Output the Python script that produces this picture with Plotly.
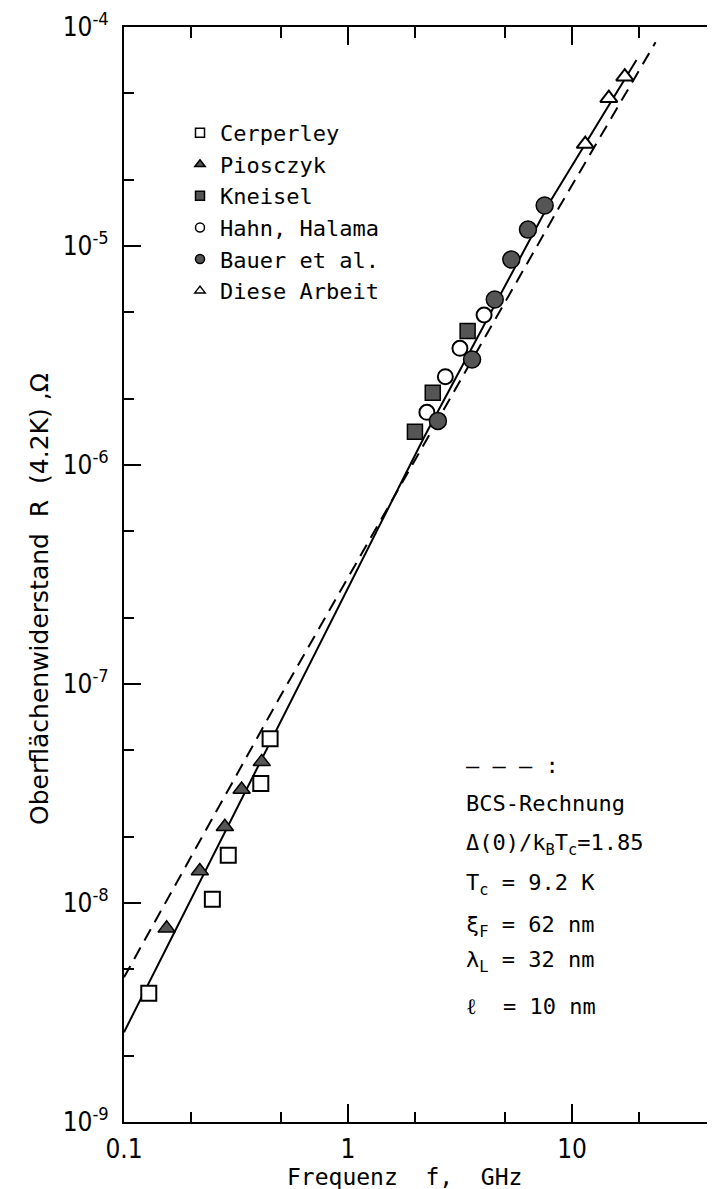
import plotly.graph_objects as go

# ---------------- data ----------------
cerperley_f = [0.129, 0.248, 0.292, 0.408, 0.449]
cerperley_R = [3.87e-9, 1.04e-8, 1.65e-8, 3.51e-8, 5.62e-8]

piosczyk_f = [0.155, 0.218, 0.282, 0.335, 0.412]
piosczyk_R = [7.66e-9, 1.40e-8, 2.23e-8, 3.30e-8, 4.41e-8]

kneisel_f = [1.99, 2.39, 3.42]
kneisel_R = [1.42e-6, 2.14e-6, 4.09e-6]

hahn_f = [2.25, 2.72, 3.16, 4.05]
hahn_R = [1.74e-6, 2.53e-6, 3.41e-6, 4.84e-6]

bauer_f = [2.52, 3.58, 4.52, 5.36, 6.36, 7.55]
bauer_R = [1.59e-6, 3.03e-6, 5.70e-6, 8.67e-6, 1.188e-5, 1.532e-5]

diese_f = [11.46, 14.6, 17.2]
diese_R = [2.92e-5, 4.73e-5, 5.93e-5]

fit_f = [0.1, 0.594, 2.20, 8.08, 19.4]
fit_R = [2.57e-9, 9.51e-8, 1.357e-6, 1.627e-5, 7.07e-5]

bcs_f = [0.1, 0.501, 8.81, 23.6]
bcs_R = [4.58e-9, 8.86e-8, 1.517e-5, 8.51e-5]

x_tickvals = [0.1, 1, 10]
x_ticktext = ["0.1", "1", "10"]
x_minor = [0.2, 0.5, 2, 5, 20]
y_tickvals = [1e-9, 1e-8, 1e-7, 1e-6, 1e-5, 1e-4]
y_ticktext = ["10<sup>-9</sup>", "10<sup>-8</sup>", "10<sup>-7</sup>",
              "10<sup>-6</sup>", "10<sup>-5</sup>", "10<sup>-4</sup>"]
y_minor = [m * d for d in [1e-9, 1e-8, 1e-7, 1e-6, 1e-5] for m in (2, 5)]

legend_names = ["Cerperley", "Piosczyk", "Kneisel", "Hahn, Halama",
                "Bauer et al.", "Diese Arbeit"]

note_lines = ["— — — :", "BCS-Rechnung",
              "Δ(0)/k<sub>B</sub>T<sub>c</sub>=1.85",
              "T<sub>c</sub> = 9.2 K",
              "ξ<sub>F</sub> = 62 nm",
              "λ<sub>L</sub> = 32 nm",
              "ℓ  = 10 nm"]

x_title = "Frequenz  f,  GHz"
y_title = "Oberflächenwiderstand  R  (4.2K) ,Ω"

# ---------------- layout geometry ----------------
W, H = 715, 1189
L, T, B, RGT = 116, 17, 1114, 715
PW, PH = RGT - L, B - T
X_RANGE = [-1, -1 + PW / 224.0]
Y_RANGE = [-9, -4]


def xp(px):
    return (px - L) / PW


def yp(py):
    return (B - py) / PH


GRAY = "#555555"
MONO = "DejaVu Sans Mono"
SANS = "Liberation Sans Narrow, DejaVu Sans Condensed, Liberation Sans, Arial"

fig = go.Figure()

# curves
fig.add_trace(go.Scatter(x=fit_f, y=fit_R, mode="lines",
                         line=dict(color="black", width=2), showlegend=False))
fig.add_trace(go.Scatter(x=bcs_f, y=bcs_R, mode="lines",
                         line=dict(color="black", width=2, dash="13px,8px"),
                         showlegend=False))

marker_styles = [
    (cerperley_f, cerperley_R, "square", "white", 15),
    (piosczyk_f, piosczyk_R, "triangle-up", GRAY, 15),
    (kneisel_f, kneisel_R, "square", GRAY, 15),
    (hahn_f, hahn_R, "circle", "white", 15),
    (bauer_f, bauer_R, "circle", GRAY, 17),
    (diese_f, diese_R, "triangle-up", "white", 15),
]
for (fx, ry, sym, col, sz), name in zip(marker_styles, legend_names):
    fig.add_trace(go.Scatter(
        x=fx, y=ry, mode="markers", name=name, showlegend=False,
        marker=dict(symbol=sym, size=sz, color=col,
                    line=dict(color="black", width=2 if col == "white" else 1.5))))

# legend entries (smaller symbols as in the key)
for (fx, ry, sym, col, sz), name in zip(marker_styles, legend_names):
    fig.add_trace(go.Scatter(
        x=[None], y=[None], mode="markers", name=name, showlegend=True,
        marker=dict(symbol=sym, size=9, color=col,
                    line=dict(color="black", width=1.5))))

# dummy trace for top / right axes
fig.add_trace(go.Scatter(x=[None], y=[None], xaxis="x2", yaxis="y2",
                         showlegend=False, hoverinfo="skip"))

axis_common = dict(type="log", showgrid=False, zeroline=False,
                   linecolor="black", tickcolor="black")

fig.update_layout(
    width=W, height=H,
    margin=dict(l=L, r=W - RGT, t=T, b=H - B, pad=0),
    paper_bgcolor="white", plot_bgcolor="white",
    xaxis=dict(**axis_common, range=X_RANGE, showline=True, linewidth=2,
               ticks="inside", ticklen=18, tickwidth=2,
               tickvals=x_tickvals, ticktext=x_ticktext,
               ticklabelstandoff=3, ticklabeloverflow="allow",
               tickfont=dict(family=SANS, size=26, color="black"),
               minor=dict(tickvals=x_minor, ticks="inside", ticklen=10,
                          tickwidth=2, tickcolor="black")),
    yaxis=dict(**axis_common, range=Y_RANGE, showline=True, linewidth=2,
               ticks="inside", ticklen=17, tickwidth=2,
               tickvals=y_tickvals, ticktext=y_ticktext,
               ticklabelstandoff=8, ticklabeloverflow="allow",
               tickfont=dict(family=SANS, size=26, color="black"),
               minor=dict(tickvals=y_minor, ticks="inside", ticklen=10,
                          tickwidth=2, tickcolor="black")),
    xaxis2=dict(**axis_common, range=X_RANGE, overlaying="x", side="top",
                anchor="y2", showline=True, linewidth=2,
                ticks="inside", ticklen=18, tickwidth=2,
                tickvals=x_tickvals, showticklabels=False,
                minor=dict(tickvals=x_minor, ticks="inside", ticklen=11,
                           tickwidth=2, tickcolor="black")),
    yaxis2=dict(**axis_common, range=Y_RANGE, overlaying="y", side="right",
                anchor="x2", showline=False,
                ticks="inside", ticklen=12, tickwidth=2,
                tickvals=y_tickvals, showticklabels=False,
                minor=dict(tickvals=y_minor, ticks="inside", ticklen=5,
                           tickwidth=2, tickcolor="black")),
    legend=dict(x=xp(172), y=yp(102), xanchor="left", yanchor="top",
                bgcolor="rgba(0,0,0,0)", borderwidth=0, tracegroupgap=0,
                font=dict(family=MONO, size=22, color="black")),
    showlegend=True,
)

annotations = []
note_y = [757, 795, 836, 876, 918, 953, 998]
for txt, py in zip(note_lines, note_y):
    annotations.append(dict(text=txt, x=xp(456), y=yp(py), xref="paper",
                            yref="paper", xanchor="left", yanchor="middle",
                            showarrow=False,
                            font=dict(family=MONO, size=22, color="black")))
annotations.append(dict(text=x_title, x=xp(396), y=yp(1169),
                        xref="paper", yref="paper", xanchor="center",
                        yanchor="middle", showarrow=False,
                        font=dict(family=MONO, size=23, color="black")))
annotations.append(dict(text=y_title, x=xp(32),
                        y=yp(590), xref="paper", yref="paper",
                        xanchor="center", yanchor="middle", textangle=-90,
                        showarrow=False,
                        font=dict(family="DejaVu Sans", size=25, color="black")))
fig.update_layout(annotations=annotations)

fig.write_html("out.html")
